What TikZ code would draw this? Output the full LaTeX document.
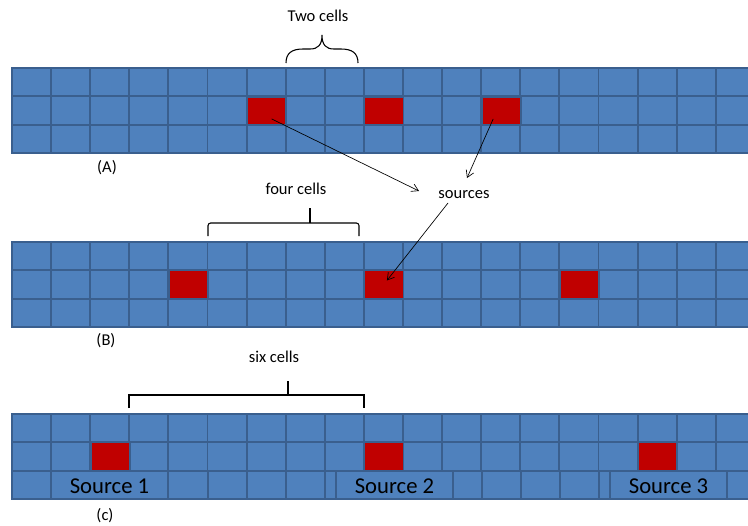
\documentclass[tikz,border=0pt]{standalone}
\usepackage{fontspec}
\setmainfont{Carlito}
\usetikzlibrary{arrows.meta,calc}
\definecolor{cellblue}{HTML}{4F81BD}
\definecolor{celledge}{HTML}{3A5F8E}
\definecolor{srcred}{HTML}{C00000}
\begin{document}
\begin{tikzpicture}[x=0.75pt,y=-0.75pt,
  cellbox/.style={fill=cellblue,draw=celledge,line width=1.4pt},
  redcell/.style={fill=srcred,draw=celledge,line width=1.4pt,minimum width=29.3pt,minimum height=21.2pt,inner sep=0pt},
  lbl/.style={font=\fontsize{12.4}{14}\selectfont,inner sep=0pt},
  srclbl/.style={font=\fontsize{17}{19}\selectfont,inner sep=0pt},
  pointer/.style={line width=0.5pt,-{Straight Barb[length=5pt,width=6pt]}},
  bracket/.style={line width=0.8pt}]
\useasboundingbox (0,0) rectangle (748,525);
\begin{scope}
\clip (0,0) rectangle (748,525);
% rows A and B: three full rows of cells
\foreach \top in {68,242}{
  \foreach \r in {0,1,2}{
    \foreach \c in {0,...,18}{
      \pgfmathsetmacro{\xx}{12+39.1*\c}
      \pgfmathsetmacro{\yy}{\top+28.3*\r}
      \draw[cellbox] (\xx,\yy) rectangle ++(39.1,28.3);
    }
  }
}
% row C: two full rows
\foreach \r in {0,1}{
  \foreach \c in {0,...,18}{
    \pgfmathsetmacro{\xx}{12+39.1*\c}
    \pgfmathsetmacro{\yy}{414+28.3*\r}
    \draw[cellbox] (\xx,\yy) rectangle ++(39.1,28.3);
  }
}
% row C bottom row, irregular
\foreach \a/\b in {12/51,168/208,208/247,247/286,286/325,325/336,453/482,482/521,521/560,560/599,599/610,727/766}{
  \draw[cellbox] (\a,470.6) rectangle (\b,499);
}
\draw[cellbox] (51,470.6) rectangle (168,499);
\draw[cellbox] (336,470.6) rectangle (453,499);
\draw[cellbox] (610,470.6) rectangle (727,499);
\end{scope}
% source cells
\node[redcell] (rA1) at (266.6,110.9) {};
\node[redcell] (rA2) at (383.9,110.9) {};
\node[redcell] (rA3) at (501.2,110.9) {};
\node[redcell] (rB1) at (188.4,284.5) {};
\node[redcell] (rB2) at (383.9,284.5) {};
\node[redcell] (rB3) at (579.4,284.5) {};
\node[redcell] (rC1) at (110.4,456.5) {};
\node[redcell] (rC2) at (383.9,456.5) {};
\node[redcell] (rC3) at (657.4,456.5) {};
% source labels in row C
\node[srclbl] (s1) at (109.5,486) {Source 1};
\node[srclbl] (s2) at (394.5,486) {Source 2};
\node[srclbl] (s3) at (668.5,486) {Source 3};
% panel labels
\node[lbl] (la) at (107,168) {(A)};
\node[lbl] (lb) at (106,341) {(B)};
\node[lbl] (lc) at (105,516) {(c)};
% brace labels
\node[lbl] (two) at (318,16) {Two cells};
\node[lbl] (four) at (296,189) {four cells};
\node[lbl] (six) at (274,357) {six cells};
\node[lbl] (src) at (464,195) {sources};
% curly brace
\draw[bracket] (286,63) .. controls (286,53) and (292,49) .. (303,49) -- (310,49)
  .. controls (318,49) and (322,45) .. (322,35)
  .. controls (322,45) and (326,49) .. (334,49) -- (341,49)
  .. controls (352,49) and (358,53) .. (358,63);
% square brackets
\draw[bracket,rounded corners=2pt] (208,236) -- (208,223) -- (359,223) -- (359,236);
\draw[bracket,rounded corners=2pt] (310,223) -- (310,208);
\draw[bracket,line width=0.9pt] (129,408) -- (129,395) -- (364,395) -- (364,408);
\draw[bracket,line width=1.4pt] (288,395) -- (288,381);
% pointers
\coordinate (p1s) at ($(rA1.center)+(5,8)$);
\coordinate (p1e) at (419,191);
\coordinate (p2s) at ($(rA3.center)+(-8,8)$);
\coordinate (p2e) at (467,178);
\coordinate (p3s) at (448,203);
\coordinate (p3e) at ($(rB2.center)+(3,-4)$);
\draw[pointer] (p1s) -- (p1e);
\draw[pointer] (p2s) -- (p2e);
\draw[pointer] (p3s) -- (p3e);
\end{tikzpicture}
\end{document}
